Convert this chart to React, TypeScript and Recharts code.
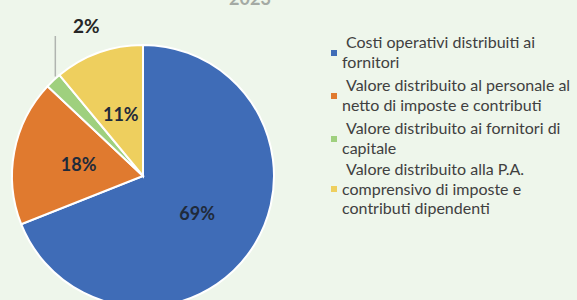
import React from 'react';
import { PieChart, Pie, Cell } from 'recharts';

const title = '2023';
const categories = [
  'Costi operativi distribuiti ai fornitori',
  'Valore distribuito al personale al netto di imposte e contributi',
  'Valore distribuito ai fornitori di capitale',
  'Valore distribuito alla P.A. comprensivo di imposte e contributi dipendenti',
];
const values = [69, 18, 2, 11];
const colors = ['#3f6cb7', '#e07a2f', '#9fd07e', '#eecf5e'];
const legendLines = [
  ['Costi operativi distribuiti ai', 'fornitori'],
  ['Valore distribuito al personale al', 'netto di imposte e contributi'],
  ['Valore distribuito ai fornitori di', 'capitale'],
  ['Valore distribuito alla P.A.', 'comprensivo di imposte e', 'contributi dipendenti'],
];
const legendTops = [32, 75, 118, 159];

const data = categories.map((name, i) => ({ name, value: values[i] }));
const RADIAN = Math.PI / 180;
const FONT = 'Lato, "Open Sans", sans-serif';

const renderLabel = (props: any) => {
  const { cx, cy, midAngle, outerRadius, percent, index } = props;
  const txt = `${Math.round(percent * 100)}%`;
  if (index === 2) {
    const ex = cx + outerRadius * Math.cos(-midAngle * RADIAN) + 2;
    const ey = cy + outerRadius * Math.sin(-midAngle * RADIAN) - 4;
    const topY = 36;
    return (
      <g>
        <path d={`M${ex},${ey} L${ex},${topY}`} stroke="#b0b4b0" strokeWidth={1.5} fill="none" />
        <text x={ex + 31} y={topY - 11} textAnchor="middle" dominantBaseline="central"
          fontFamily={FONT} fontWeight={700} fontSize={19} fill="#262626">{txt}</text>
      </g>
    );
  }
  const r = outerRadius * 0.5;
  const x = cx + r * Math.cos(-midAngle * RADIAN);
  const y = cy + r * Math.sin(-midAngle * RADIAN);
  return (
    <text x={x} y={y} textAnchor="middle" dominantBaseline="central"
      fontFamily={FONT} fontWeight={700} fontSize={18} fill="#1f2a3a">{txt}</text>
  );
};

export default function App() {
  return (
    <div style={{ position: 'absolute', left: 0, top: 0, width: 577, height: 300, background: '#eef6eb', overflow: 'hidden', fontFamily: FONT }}>
      <svg width={577} height={20} style={{ position: 'absolute', left: 0, top: 0 }}>
        <text x={250} y={5} textAnchor="middle" fontFamily={FONT} fontWeight={700} fontSize={18} fill="#a4aaa4">{title}</text>
      </svg>
      <div style={{ position: 'absolute', left: 0, top: 0 }}>
        <PieChart width={577} height={300} margin={{ top: 0, right: 0, bottom: 0, left: 0 }}>
          <Pie
            data={data}
            dataKey="value"
            cx={143}
            cy={176}
            outerRadius={131}
            startAngle={90}
            endAngle={-270}
            stroke="#ffffff"
            strokeWidth={2}
            label={renderLabel}
            labelLine={false}
            isAnimationActive={false}
          >
            {data.map((d, i) => (
              <Cell key={d.name} fill={colors[i]} />
            ))}
          </Pie>
        </PieChart>
      </div>
      {legendLines.map((lines, i) => (
        <div key={i} style={{ position: 'absolute', left: 331, top: legendTops[i], display: 'flex', alignItems: 'center' }}>
          <div style={{ width: 6, height: 6, background: colors[i], marginRight: 5, marginTop: 2 }} />
          <div style={{ fontSize: 16, lineHeight: '19.5px', color: '#404040', whiteSpace: 'nowrap' }}>
            {lines.map((l, j) => (
              <div key={j} style={{ paddingLeft: j === 0 ? 4 : 0 }}>{l}</div>
            ))}
          </div>
        </div>
      ))}
    </div>
  );
}
